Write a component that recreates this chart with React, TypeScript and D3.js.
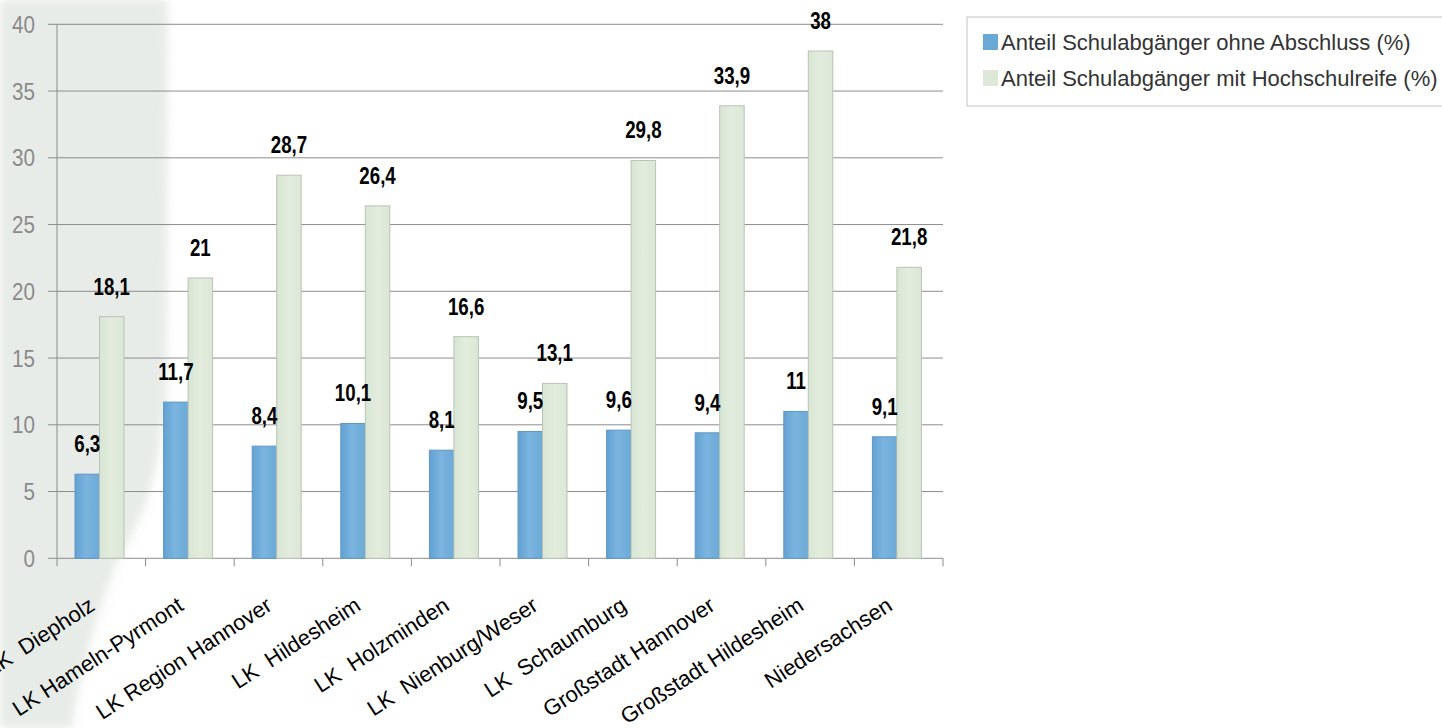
import React from "react";
import { scaleBand, scaleLinear, range, formatLocale } from "d3";

const categories = [
  "LK  Diepholz",
  "LK Hameln-Pyrmont",
  "LK Region Hannover",
  "LK  Hildesheim",
  "LK  Holzminden",
  "LK  Nienburg/Weser",
  "LK  Schaumburg",
  "Großstadt Hannover",
  "Großstadt Hildesheim",
  "Niedersachsen",
];
const ohneAbschluss = [6.3, 11.7, 8.4, 10.1, 8.1, 9.5, 9.6, 9.4, 11, 9.1];
const hochschulreife = [18.1, 21, 28.7, 26.4, 16.6, 13.1, 29.8, 33.9, 38, 21.8];
const seriesNames = [
  "Anteil Schulabgänger ohne Abschluss (%)",
  "Anteil Schulabgänger mit Hochschulreife (%)",
];
const yTicks = range(0, 41, 5);

const W = 1442;
const H = 728;
const plot = { left: 57, right: 943, top: 24.3, bottom: 558.3 };

const de = formatLocale({ decimal: ",", thousands: ".", grouping: [3], currency: ["", " €"] });
const fmt = (v: number) => de.format("~")(v);

const sans = "'Liberation Sans', Arial, sans-serif";

export default function App() {
  const x = scaleBand<string>().domain(categories).range([plot.left, plot.right]);
  const inner = scaleBand<string>().domain(["a", "b"]).range([18, 67]);
  const y = scaleLinear().domain([0, 40]).range([plot.bottom, plot.top]);
  const series = [
    { key: "a", values: ohneAbschluss },
    { key: "b", values: hochschulreife },
  ];

  return (
    <svg
      width={W}
      height={H}
      style={{ position: "absolute", left: 0, top: 0, background: "#fff" }}
    >
      <defs>
        <linearGradient id="blueBar" x1="0" x2="1" y1="0" y2="0">
          <stop offset="0" stopColor="#62a1d2" />
          <stop offset="0.45" stopColor="#7bb4df" />
          <stop offset="1" stopColor="#6caad7" />
        </linearGradient>
        <linearGradient id="greenBar" x1="0" x2="1" y1="0" y2="0">
          <stop offset="0" stopColor="#d9e6d4" />
          <stop offset="0.5" stopColor="#e3ecde" />
          <stop offset="1" stopColor="#dbe7d6" />
        </linearGradient>
        <filter id="soft" x="-0.2" y="-0.2" width="1.4" height="1.4">
          <feGaussianBlur stdDeviation="4" />
        </filter>
      </defs>

      {/* background decoration on the left */}
      <path
        d="M0,0 L168,0 L167,400 C165,480 140,530 123,560 C105,600 85,670 75,728 L0,728 Z"
        fill="#e8ece8"
        filter="url(#soft)"
      />
      <path
        d="M167,420 C165,490 140,532 123,562 C105,602 86,670 77,728"
        fill="none"
        stroke="#ffffff"
        strokeWidth={10}
        opacity={0.8}
        filter="url(#soft)"
      />

      {/* grid */}
      {yTicks.map((t) => (
        <g key={t}>
          <line
            x1={plot.left - 9}
            x2={plot.right}
            y1={y(t)}
            y2={y(t)}
            stroke="#8c8c8c"
            strokeWidth={1}
          />
          <text
            transform={`translate(35,${y(t)}) scale(0.86,1)`}
            dy="0.36em"
            textAnchor="end"
            fontFamily={sans}
            fontSize={24}
            fill="#8a8a8a"
          >
            {t}
          </text>
        </g>
      ))}
      <line x1={plot.left} x2={plot.left} y1={plot.top} y2={plot.bottom} stroke="#8c8c8c" />
      {range(categories.length + 1).map((i) => {
        const xx = plot.left + i * x.bandwidth();
        return (
          <line key={i} x1={xx} x2={xx} y1={plot.bottom} y2={plot.bottom + 8} stroke="#8c8c8c" />
        );
      })}

      {/* bars */}
      {series.map((s) =>
        s.values.map((v, i) => {
          const bx = (x(categories[i]) ?? 0) + (inner(s.key) ?? 0);
          const bw = inner.bandwidth();
          return (
            <rect
              key={s.key + i}
              x={bx}
              y={y(v)}
              width={bw}
              height={y(0) - y(v)}
              fill={s.key === "a" ? "url(#blueBar)" : "url(#greenBar)"}
              stroke={s.key === "a" ? "#5e97c4" : "#b9c3b5"}
              strokeWidth={1}
            />
          );
        })
      )}

      {/* value labels */}
      {series.map((s) =>
        s.values.map((v, i) => {
          const cx = (x(categories[i]) ?? 0) + (inner(s.key) ?? 0) + inner.bandwidth() / 2;
          return (
            <text
              key={"l" + s.key + i}
              transform={`translate(${cx},${y(v) - 22}) scale(0.78,1)`}
              textAnchor="middle"
              fontFamily={sans}
              fontWeight="bold"
              fontSize={24}
              fill="#000"
            >
              {fmt(v)}
            </text>
          );
        })
      )}

      {/* category labels */}
      {categories.map((c) => {
        const cx = (x(c) ?? 0) + x.bandwidth() / 2 - 5;
        const cy = 609;
        return (
          <text
            key={c}
            transform={`translate(${cx},${cy}) rotate(-33)`}
            textAnchor="end"
            fontFamily={sans}
            fontSize={22}
            fill="#000"
            style={{ whiteSpace: "pre" }}
          >
            {c}
          </text>
        );
      })}

      {/* legend */}
      <rect x={967} y={17} width={500} height={89} fill="#fff" stroke="#c4c4c4" />
      {seriesNames.map((n, i) => (
        <g key={n} transform={`translate(983,${42 + i * 36})`}>
          <rect
            x={0}
            y={-8}
            width={15}
            height={16}
            fill={i === 0 ? "#6aa8d6" : "#dde8d8"}
          />
          <text x={18} y={0} dy="0.36em" fontFamily={sans} fontSize={22} fill="#333">
            {n}
          </text>
        </g>
      ))}
    </svg>
  );
}
